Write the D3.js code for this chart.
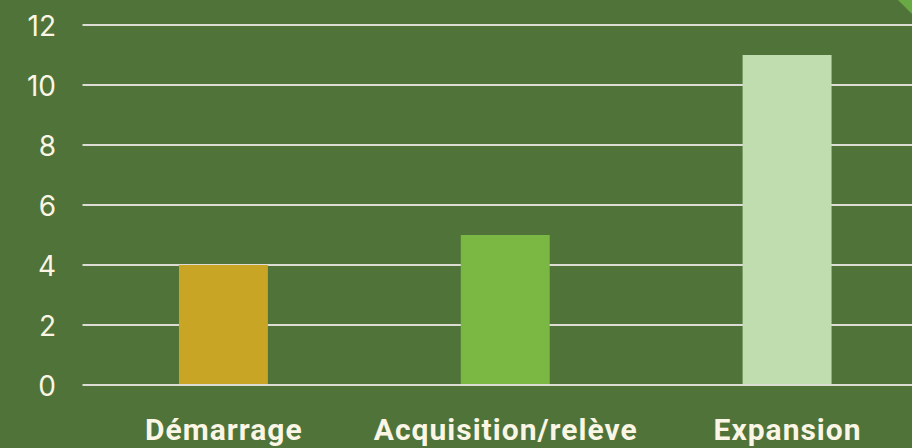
<!DOCTYPE html>
<html>
<head>
<meta charset="utf-8">
<script src="https://cdn.jsdelivr.net/npm/d3@7"></script>
<style>
  html, body { margin: 0; padding: 0; background: #4f7338; overflow: hidden; }
  svg { display: block; }
</style>
</head>
<body>
<div id="chart"></div>
<script>
// data
const categories = ["Démarrage", "Acquisition/relève", "Expansion"];
const values = [4, 5, 11];
const barColors = ["#c9a526", "#7bb843", "#c0ddb0"];
const yTicks = [0, 2, 4, 6, 8, 10, 12];

const width = 912,
    height = 448;
const margin = { top: 25, right: -16, bottom: 63, left: 82.5 };

const svg = d3.select("#chart")
    .append("svg")
    .attr("width", width)
    .attr("height", height)
    .style("font-family", "Roboto, 'Noto Sans', sans-serif");

svg.append("rect")
    .attr("width", width)
    .attr("height", height)
    .attr("fill", "#4f7338");

// scales
const x = d3.scaleBand()
    .domain(categories)
    .range([margin.left, width - margin.right])
    .paddingInner(0.6844)
    .paddingOuter(0.3422);

const y = d3.scaleLinear()
    .domain([0, 12])
    .range([height - margin.bottom, margin.top]);

// gridlines
svg.append("g")
    .selectAll("line")
    .data(yTicks)
    .enter()
    .append("line")
        .attr("x1", margin.left)
        .attr("x2", width)
        .attr("y1", d => y(d))
        .attr("y2", d => y(d))
        .attr("stroke", "#dcdcd4")
        .attr("stroke-width", 2);

// y axis labels
const yAxis = svg.append("g")
    .attr("transform", `translate(56,0)`)
    .call(d3.axisLeft(y).tickValues(yTicks).tickSize(0).tickPadding(0));
yAxis.select(".domain").remove();
yAxis.attr("font-size", null).attr("font-family", null);
yAxis.selectAll("text")
    .attr("fill", "#faf5e4")
    .attr("dy", "0.36em")
    .style("font-size", "28px")
    .style("font-family", "Inter, 'DejaVu Sans', sans-serif");

// bars
svg.append("g")
    .selectAll("rect")
    .data(values)
    .enter()
    .append("rect")
        .attr("x", (d, i) => x(categories[i]))
        .attr("y", d => y(d))
        .attr("width", x.bandwidth())
        .attr("height", d => y(0) - y(d) - 1)
        .attr("fill", (d, i) => barColors[i]);

// category labels
svg.append("g")
    .selectAll("text")
    .data(categories)
    .enter()
    .append("text")
        .attr("x", d => x(d) + x.bandwidth() / 2 + 0.5)
        .attr("y", 440)
        .attr("text-anchor", "middle")
        .attr("fill", "#faf5e4")
        .style("font-size", "30px")
        .style("font-weight", "bold")
        .style("letter-spacing", "1px")
        .text(d => d);

// corner triangle
svg.append("path")
    .attr("d", `M${width - 14},0 L${width},0 L${width},14 Z`)
    .attr("fill", "#6aaa45");
</script>
</body>
</html>
